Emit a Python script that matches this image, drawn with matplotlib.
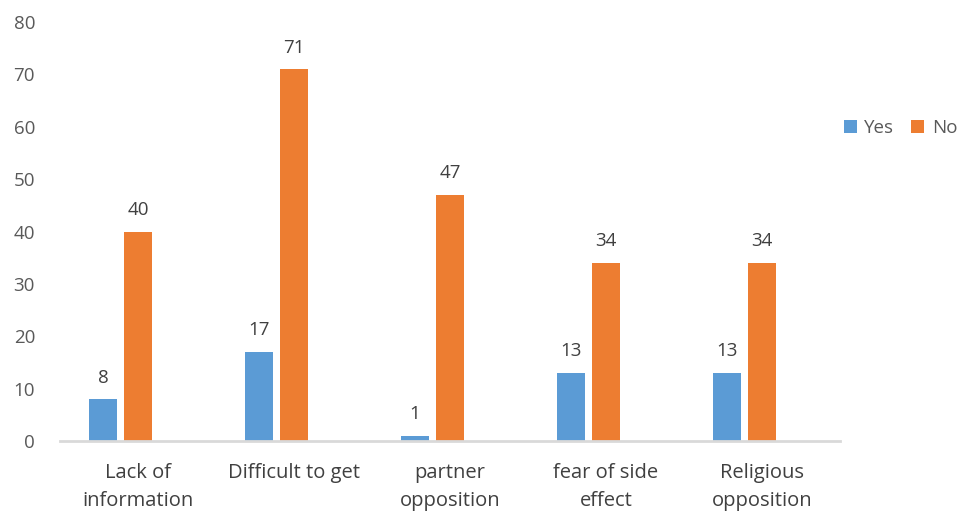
import matplotlib.pyplot as plt
import numpy as np

# reasons and counts
categories = ["Lack of\ninformation", "Difficult to get", "partner\nopposition",
              "fear of side\neffect", "Religious\nopposition"]
yes_vals = [8, 17, 1, 13, 13]
no_vals = [40, 71, 47, 34, 34]

plt.rcParams['font.family'] = ['Open Sans', 'DejaVu Sans']

fig = plt.figure(figsize=(9.62, 5.12), dpi=100)
ax = fig.add_axes([0.0624, 0.1387, 0.8106, 0.8183])

x = np.arange(len(categories))
w = 0.18
off = 0.224
b1 = ax.bar(x - off, yes_vals, w, color="#5B9BD5", label="Yes")
b2 = ax.bar(x, no_vals, w, color="#ED7D31", label="No")

# value labels above the bars
for bars in (b1, b2):
    ax.bar_label(bars, padding=9, fontsize=13.5, color="#404040")

ax.set_xlim(-0.5, 4.5)
ax.set_ylim(0, 80)
ax.set_yticks(range(0, 81, 10))
ax.set_xticks(x)
ax.set_xticklabels(categories, fontsize=14.5, color="#404040", linespacing=1.55)
ax.tick_params(axis='y', length=0, pad=18, labelsize=13.5, labelcolor="#595959")
ax.tick_params(axis='x', length=0, pad=16)

for s in ("top", "right", "left"):
    ax.spines[s].set_visible(False)
ax.spines["bottom"].set_color("#D9D9D9")
ax.spines["bottom"].set_linewidth(2)

fig.legend(handles=[b1, b2], loc="center left", bbox_to_anchor=(0.877, 0.75),
           ncol=2, frameon=False, fontsize=13.5, handlelength=0.7, handleheight=0.7,
           handletextpad=0.4, columnspacing=0.9, borderpad=0, borderaxespad=0,
           labelcolor="#595959")

fig.savefig("out.png", dpi=100)
